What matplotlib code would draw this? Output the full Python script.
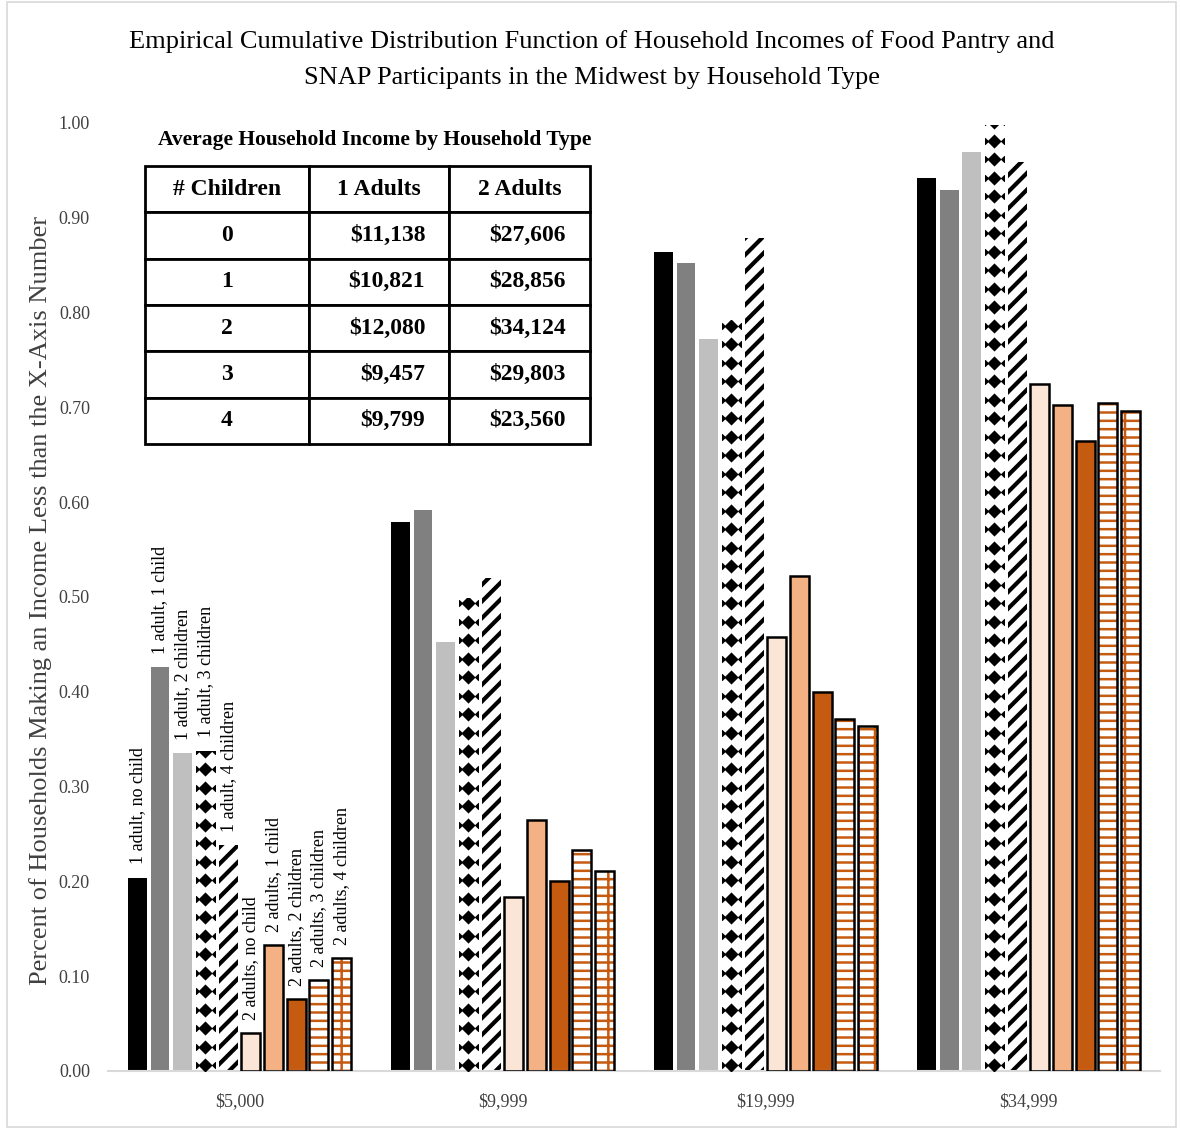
import numpy as np
import matplotlib
matplotlib.use("Agg")
import matplotlib.pyplot as plt
from matplotlib.patches import Rectangle
from matplotlib.table import Table

plt.rcParams["font.family"] = ["Liberation Serif", "DejaVu Serif"]

# income cut-offs on the x axis
income_cutoffs = ["$5,000", "$9,999", "$19,999", "$34,999"]

household_types = [
    "1 adult, no child", "1 adult, 1 child", "1 adult, 2 children",
    "1 adult, 3 children", "1 adult, 4 children",
    "2 adults, no child", "2 adults, 1 child", "2 adults, 2 children",
    "2 adults, 3 children", "2 adults, 4 children",
]

# share of households below each cut-off
one_adult_no_child = [0.204, 0.579, 0.864, 0.942]
one_adult_1_child = [0.426, 0.592, 0.852, 0.929]
one_adult_2_children = [0.335, 0.453, 0.772, 0.969]
one_adult_3_children = [0.338, 0.499, 0.792, 0.998]
one_adult_4_children = [0.238, 0.520, 0.879, 0.959]
two_adults_no_child = [0.040, 0.184, 0.458, 0.725]
two_adults_1_child = [0.133, 0.265, 0.522, 0.703]
two_adults_2_children = [0.076, 0.200, 0.400, 0.665]
two_adults_3_children = [0.096, 0.233, 0.371, 0.705]
two_adults_4_children = [0.119, 0.211, 0.364, 0.696]

series = [
    one_adult_no_child, one_adult_1_child, one_adult_2_children,
    one_adult_3_children, one_adult_4_children,
    two_adults_no_child, two_adults_1_child, two_adults_2_children,
    two_adults_3_children, two_adults_4_children,
]

# inset table
table_header = ["# Children", "1 Adults", "2 Adults"]
n_children = ["0", "1", "2", "3", "4"]
one_adult_income = ["$11,138", "$10,821", "$12,080", "$9,457", "$9,799"]
two_adult_income = ["$27,606", "$28,856", "$34,124", "$29,803", "$23,560"]

ORANGE = "#C55A11"
styles = [
    dict(color="black"),
    dict(color="#808080"),
    dict(color="#BFBFBF"),
    dict(color="white", pattern="diamond"),
    dict(color="white", hatch="//", hatch_color="black", hatch_lw=3.0),
    dict(color="#FBE5D6", edge="black"),
    dict(color="#F4B183", edge="black"),
    dict(color=ORANGE, edge="black"),
    dict(color="white", hatch="--", hatch_color=ORANGE, hatch_lw=1.8, edge="black"),
    dict(color="white", hatch="+-", hatch_color=ORANGE, hatch_lw=1.8, edge="black"),
]


def diamond_fill(ax, bars):
    # column of black diamonds clipped to each bar
    for bar in bars:
        x0, w, h = bar.get_x(), bar.get_width(), bar.get_height()
        ys = np.arange(0.006, h + 0.02, 0.0195)
        mid = ax.scatter(np.full_like(ys, x0 + w / 2), ys, marker="D", s=52,
                         color="black", linewidths=0, zorder=3)
        mid.set_clip_path(bar)
        sides = ax.scatter(np.r_[np.full_like(ys, x0), np.full_like(ys, x0 + w)],
                           np.r_[ys, ys], marker="D", s=14, color="black",
                           linewidths=0, zorder=3)
        sides.set_clip_path(bar)


fig = plt.figure(figsize=(11.81, 11.29), dpi=100)
ax = fig.add_axes([0.0914, 0.0514, 0.8908, 0.8397])

x = np.arange(len(income_cutoffs))
slot = 0.0863
width = 0.072

for i, (vals, st) in enumerate(zip(series, styles)):
    pos = x + (i - 4.5) * slot
    if "hatch" in st:
        with plt.rc_context({"hatch.linewidth": st["hatch_lw"]}):
            bars = ax.bar(pos, vals, width, color=st["color"],
                          edgecolor=st["hatch_color"], hatch=st["hatch"],
                          linewidth=0, zorder=2)
            for b in bars:
                if hasattr(b, "set_hatch_linewidth"):
                    b.set_hatch_linewidth(st["hatch_lw"])
    else:
        bars = ax.bar(pos, vals, width, color=st["color"], linewidth=0, zorder=2)
    if st.get("pattern") == "diamond":
        diamond_fill(ax, bars)
    if "edge" in st:
        ax.bar(pos, vals, width, facecolor="none", edgecolor=st["edge"],
               linewidth=1.8, zorder=4)
    # household type label above the first group
    ax.text(pos[0], vals[0] + 0.014, household_types[i], rotation=90,
            ha="center", va="bottom", fontsize=13, color="black", zorder=5)

ax.set_xlim(-0.5, len(income_cutoffs) - 0.5)
ax.set_ylim(0, 1.0)
ax.set_xticks(x)
ax.set_xticklabels(income_cutoffs, fontsize=13, color="#404040")
ax.set_yticks(np.arange(0, 1.01, 0.1))
ax.set_yticklabels([f"{v:.2f}" for v in np.arange(0, 1.01, 0.1)],
                   fontsize=13, color="#404040")
ax.tick_params(axis="both", length=0)
ax.tick_params(axis="y", pad=13)
ax.tick_params(axis="x", pad=16)
for side in ["top", "right", "left"]:
    ax.spines[side].set_visible(False)
ax.spines["bottom"].set_color("#D9D9D9")
ax.spines["bottom"].set_linewidth(1.5)

fig.text(0.034, 0.4686,
         "Percent of Households Making an Income Less than the X-Axis Number",
         rotation=90, ha="center", va="center", fontsize=19, color="#404040")

fig.text(0.5014, 0.9477,
         "Empirical Cumulative Distribution Function of Household Incomes of Food Pantry and\n"
         "SNAP Participants in the Midwest by Household Type",
         ha="center", va="center", fontsize=19, linespacing=1.82, color="black")

# average income table
fig.text(0.3175, 0.876, "Average Household Income by Household Type",
         ha="center", va="center", fontsize=15.5, fontweight="bold")

tax = fig.add_axes([0.1228, 0.6067, 0.3768, 0.2462])
tax.axis("off")
tbl = Table(tax, bbox=[0, 0, 1, 1])
col_w = [164 / 445, 140 / 445, 141 / 445]
row_h = 1 / 6
for c, label in enumerate(table_header):
    tbl.add_cell(0, c, col_w[c], row_h, text=label, loc="center")
for r, row in enumerate(zip(n_children, one_adult_income, two_adult_income), start=1):
    for c, val in enumerate(row):
        cell = tbl.add_cell(r, c, col_w[c], row_h, text=val,
                            loc="center" if c == 0 else "right")
        if c > 0:
            cell.PAD = 0.17
tbl.auto_set_font_size(False)
for cell in tbl.get_celld().values():
    cell.set_linewidth(2)
    cell.set_edgecolor("black")
    cell.get_text().set_fontsize(17)
    cell.get_text().set_fontweight("bold")
tax.add_table(tbl)

# light frame around the whole figure
fig.patches.append(Rectangle((0.006, 0.002), 0.99, 0.996, transform=fig.transFigure,
                             fill=False, edgecolor="#D9D9D9", linewidth=1.2))

fig.savefig("out.png", dpi=100)
